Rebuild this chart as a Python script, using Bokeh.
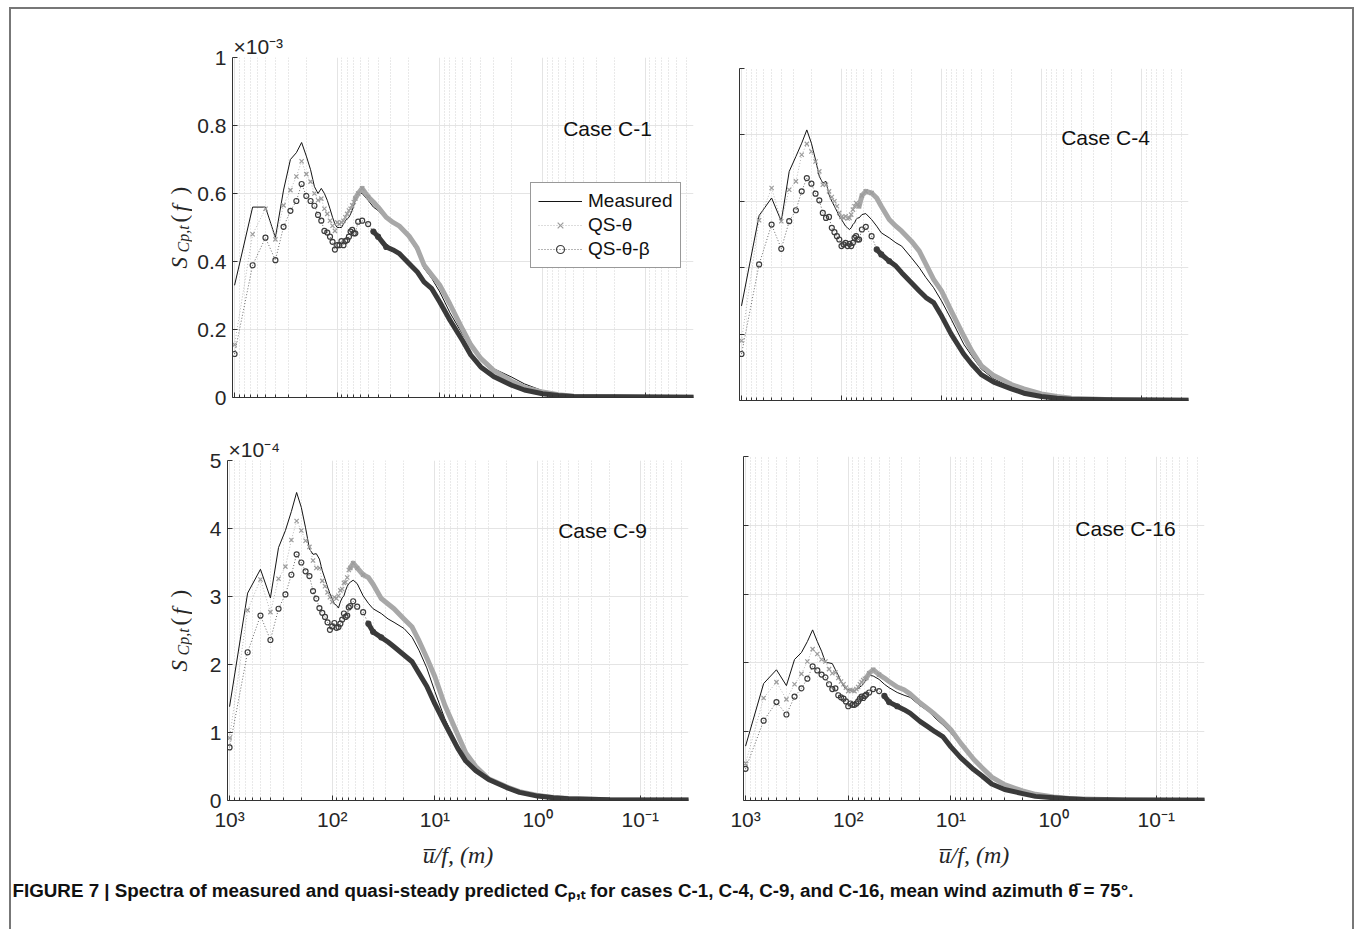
import math
from bokeh.plotting import figure
from bokeh.models import (Range1d, FixedTicker, Legend, LegendItem, Label, ColumnDataSource,
                          Div, Spacer, Title)
from bokeh.layouts import row, column
from bokeh.embed import file_html
from bokeh.resources import INLINE

# ---------------- data ----------------
# u/f (m) of the spectral bins that were read
X_BINS = [1000.0, 666.7, 500.0, 400.0, 333.3, 285.7, 250.0, 222.2, 200.0, 181.8,
          166.7, 153.8, 142.9, 133.3, 125.0, 117.6, 111.1, 105.3, 100.0, 95.24,
          90.91, 86.96, 83.33, 80.0, 76.92, 74.07, 71.43, 68.97, 66.67,
          62.5, 57.14, 50.0, 44.44, 40.0, 33.33, 28.57, 25.0, 20.0, 16.67, 14.29,
          12.0, 10.0, 8.0, 6.0, 5.0, 4.0, 3.0, 2.0, 1.5, 1.0, 0.7, 0.5, 0.2, 0.032]

# Case C-1  (units of 1e-3)
C1_MEASURED = [0.33, 0.56, 0.56, 0.47, 0.61, 0.70, 0.72, 0.75, 0.71, 0.67,
               0.62, 0.60, 0.615, 0.60, 0.58, 0.555, 0.53, 0.51, 0.50, 0.50,
               0.50, 0.51, 0.52, 0.525, 0.53, 0.54, 0.55, 0.565, 0.58,
               0.60, 0.60, 0.58, 0.56, 0.55, 0.525, 0.52, 0.505, 0.47, 0.43, 0.38,
               0.35, 0.31, 0.25, 0.185, 0.15, 0.12, 0.085, 0.06, 0.04, 0.02, 0.01, 0.005, 0.002, 0.001]
C1_QS_THETA = [0.155, 0.48, 0.555, 0.465, 0.565, 0.61, 0.65, 0.695, 0.657, 0.635,
               0.60, 0.58, 0.585, 0.555, 0.54, 0.52, 0.505, 0.49, 0.515, 0.51,
               0.515, 0.52, 0.53, 0.54, 0.55, 0.555, 0.565, 0.575, 0.585,
               0.60, 0.615, 0.59, 0.575, 0.56, 0.53, 0.515, 0.505, 0.475, 0.44, 0.39,
               0.36, 0.33, 0.275, 0.20, 0.155, 0.115, 0.08, 0.048, 0.03, 0.016, 0.008, 0.004, 0.002, 0.001]
C1_QS_THETA_BETA = [0.128, 0.389, 0.47, 0.404, 0.502, 0.549, 0.578, 0.628, 0.593, 0.578,
                    0.564, 0.537, 0.52, 0.49, 0.485, 0.473, 0.458, 0.435, 0.448, 0.448,
                    0.46, 0.448, 0.46, 0.463, 0.473, 0.488, 0.493, 0.483, 0.483,
                    0.517, 0.52, 0.51, 0.488, 0.473, 0.443, 0.434, 0.424, 0.394, 0.37, 0.34,
                    0.32, 0.28, 0.228, 0.167, 0.125, 0.09, 0.062, 0.036, 0.022, 0.011, 0.006, 0.003, 0.002, 0.001]

# Case C-4  (units of 1e-3)
C4_MEASURED = [0.285, 0.557, 0.61, 0.54, 0.69, 0.735, 0.775, 0.815, 0.775, 0.725,
               0.675, 0.655, 0.66, 0.62, 0.60, 0.585, 0.57, 0.555, 0.545, 0.535,
               0.525, 0.52, 0.515, 0.52, 0.53, 0.535, 0.545, 0.55, 0.55,
               0.56, 0.563, 0.545, 0.525, 0.505, 0.49, 0.475, 0.465, 0.43, 0.40, 0.37,
               0.34, 0.30, 0.245, 0.17, 0.135, 0.095, 0.065, 0.04, 0.028, 0.015, 0.008, 0.004, 0.002, 0.001]
C4_QS_THETA = [0.18, 0.543, 0.64, 0.54, 0.635, 0.66, 0.74, 0.773, 0.75, 0.72,
               0.69, 0.65, 0.65, 0.63, 0.613, 0.60, 0.585, 0.565, 0.553, 0.55,
               0.555, 0.548, 0.55, 0.56, 0.575, 0.585, 0.595, 0.59, 0.585,
               0.617, 0.63, 0.625, 0.61, 0.585, 0.545, 0.525, 0.51, 0.48, 0.45, 0.41,
               0.365, 0.33, 0.27, 0.195, 0.15, 0.105, 0.075, 0.048, 0.035, 0.02, 0.012, 0.007, 0.002, 0.001]
C4_QS_THETA_BETA = [0.14, 0.41, 0.53, 0.457, 0.54, 0.573, 0.63, 0.67, 0.653, 0.623,
                    0.603, 0.565, 0.55, 0.553, 0.52, 0.507, 0.495, 0.485, 0.465, 0.47,
                    0.475, 0.465, 0.472, 0.465, 0.475, 0.49, 0.495, 0.485, 0.485,
                    0.515, 0.523, 0.495, 0.455, 0.44, 0.42, 0.405, 0.385, 0.355, 0.33, 0.31,
                    0.295, 0.255, 0.2, 0.14, 0.11, 0.078, 0.055, 0.035, 0.022, 0.012, 0.007, 0.004, 0.002, 0.001]

# Case C-9  (units of 1e-4)
C9_MEASURED = [1.38, 3.05, 3.40, 2.98, 3.72, 3.97, 4.25, 4.53, 4.31, 4.01,
               3.70, 3.62, 3.63, 3.55, 3.38, 3.26, 3.14, 3.04, 2.97, 2.89,
               2.87, 2.83, 2.92, 2.98, 3.01, 3.09, 3.15, 3.19, 3.21,
               3.24, 3.19, 3.01, 2.90, 2.82, 2.75, 2.67, 2.62, 2.53, 2.40, 2.21,
               1.95, 1.6, 1.2, 0.8, 0.6, 0.42, 0.3, 0.18, 0.12, 0.07, 0.045, 0.03, 0.01, 0.008]
C9_QS_THETA = [0.92, 2.80, 3.25, 2.77, 3.26, 3.44, 3.83, 4.11, 3.97, 3.82,
               3.73, 3.53, 3.42, 3.42, 3.23, 3.15, 3.06, 2.99, 2.92, 2.99,
               2.97, 3.01, 3.09, 3.11, 3.20, 3.21, 3.28, 3.39, 3.42,
               3.49, 3.42, 3.32, 3.28, 3.18, 2.97, 2.89, 2.82, 2.67, 2.55, 2.35,
               2.1, 1.82, 1.4, 0.97, 0.7, 0.5, 0.32, 0.2, 0.13, 0.075, 0.045, 0.03, 0.01, 0.008]
C9_QS_THETA_BETA = [0.78, 2.18, 2.72, 2.36, 2.82, 3.03, 3.32, 3.62, 3.50, 3.37,
                    3.30, 3.08, 2.97, 2.83, 2.76, 2.70, 2.62, 2.51, 2.56, 2.61,
                    2.54, 2.55, 2.60, 2.66, 2.75, 2.70, 2.72, 2.84, 2.86,
                    2.93, 2.85, 2.77, 2.60, 2.48, 2.40, 2.33, 2.26, 2.14, 2.04, 1.87,
                    1.68, 1.42, 1.13, 0.77, 0.58, 0.44, 0.31, 0.19, 0.12, 0.065, 0.04, 0.025, 0.01, 0.008]

# Case C-16  (units of 1e-4)
C16_MEASURED = [0.79, 1.70, 1.90, 1.67, 2.05, 2.15, 2.31, 2.48, 2.31, 2.17,
                2.01, 2.0, 1.99, 1.90, 1.82, 1.73, 1.67, 1.62, 1.61, 1.60,
                1.59, 1.60, 1.61, 1.63, 1.65, 1.67, 1.69, 1.73, 1.76,
                1.82, 1.81, 1.76, 1.69, 1.64, 1.57, 1.53, 1.50, 1.38, 1.30, 1.20,
                1.1, 0.98, 0.8, 0.58, 0.45, 0.33, 0.22, 0.12, 0.08, 0.05, 0.03, 0.02, 0.008, 0.006]
C16_QS_THETA = [0.54, 1.49, 1.72, 1.47, 1.69, 1.84, 2.02, 2.20, 2.13, 2.05,
                2.02, 1.91, 1.85, 1.86, 1.78, 1.73, 1.69, 1.64, 1.59, 1.61,
                1.60, 1.59, 1.62, 1.65, 1.69, 1.72, 1.75, 1.77, 1.78,
                1.85, 1.90, 1.83, 1.78, 1.73, 1.65, 1.61, 1.55, 1.42, 1.33, 1.25,
                1.15, 1.03, 0.83, 0.6, 0.48, 0.34, 0.23, 0.14, 0.09, 0.05, 0.03, 0.02, 0.008, 0.006]
C16_QS_THETA_BETA = [0.46, 1.16, 1.43, 1.25, 1.51, 1.63, 1.77, 1.95, 1.89, 1.83,
                     1.79, 1.69, 1.62, 1.63, 1.53, 1.50, 1.48, 1.44, 1.37, 1.41,
                     1.39, 1.39, 1.41, 1.44, 1.48, 1.51, 1.49, 1.52, 1.54,
                     1.57, 1.62, 1.59, 1.52, 1.43, 1.37, 1.32, 1.27, 1.15, 1.07, 1.0,
                     0.93, 0.78, 0.62, 0.45, 0.36, 0.24, 0.16, 0.1, 0.06, 0.04, 0.025, 0.015, 0.006, 0.005]

X_TICKS = [1000.0, 100.0, 10.0, 1.0, 0.1]
X_TICK_LABELS = ["10³", "10²", "10¹", "10⁰", "10⁻¹"]
Y_TICKS_TOP = [0, 0.2, 0.4, 0.6, 0.8, 1]
Y_TICK_LABELS_TOP = ["0", "0.2", "0.4", "0.6", "0.8", "1"]
Y_TICKS_BOTTOM = [0, 1, 2, 3, 4, 5]
Y_TICK_LABELS_BOTTOM = ["0", "1", "2", "3", "4", "5"]
LEGEND_LABELS = ["Measured", "QS-θ", "QS-θ-β"]
CASES = ["Case C-1", "Case C-4", "Case C-9", "Case C-16"]
SCALES = ["×10⁻³", "×10⁻⁴"]
CAPTION = ("FIGURE 7 | Spectra of measured and quasi-steady predicted Cₚ,ₜ for cases "
           "C-1, C-4, C-9, and C-16, mean wind azimuth θ̄ = 75°.")

# ---------------- styling ----------------
SANS = "Liberation Sans"
SERIF = "Liberation Serif"
INK = "#262626"
AX = "#333333"
X_START = 10 ** 3.02
X_END = 10 ** -1.47
MINOR = [m * 10.0 ** e for e in range(-2, 4) for m in range(2, 10)]
YL_W = 181          # label strip: abs x 11..192


def no_align(f):
    try:
        f.frame_align = False
    except Exception:
        pass
    return f


def blank_fig(width, height):
    f = figure(width=width, height=height, output_backend="svg", toolbar_location=None,
               x_range=Range1d(0, 1), y_range=Range1d(0, 1), min_border=0,
               x_axis_location=None, y_axis_location=None)
    f.grid.visible = False
    f.outline_line_color = None
    return no_align(f)


def ylabel_fig(height, canvas_bottom_abs, by):
    # S_{Cp,t}(f), rotated, built from pieces
    f = blank_fig(YL_W, height)
    common = dict(x_units="screen", y_units="screen", angle=math.pi / 2,
                  text_font=SERIF, text_color=INK,
                  text_align="left", text_baseline="alphabetic")
    pieces = [("S", 179, 0, "23px", "italic"), ("Cp,t", 183, 16, "16px", "italic"),
              ("(", 179, 46, "23px", "normal"), ("f", 180, 57, "23px", "italic"),
              (")", 179, 74, "23px", "normal")]
    for txt, ax_abs, dy, fs, style in pieces:
        f.add_layout(Label(x=ax_abs - 11, y=canvas_bottom_abs - (by - dy), text=txt,
                           text_font_size=fs, text_font_style=style, **common))
    return f


def make_panel(width, height, borders, frame_abs, y_end, y_ticks, y_labels,
               show_x_labels, show_y_labels, series, case_text, case_abs):
    left, right, top, bottom = borders
    fl, fb = frame_abs
    p = figure(width=width, height=height, x_axis_type="log",
               x_range=Range1d(X_START, X_END), y_range=Range1d(0, y_end),
               output_backend="svg", toolbar_location=None,
               min_border_left=left, min_border_right=right,
               min_border_top=top, min_border_bottom=bottom)
    no_align(p)
    p.outline_line_color = None
    p.background_fill_color = "white"
    p.border_fill_color = "white"

    xt = FixedTicker(ticks=X_TICKS, minor_ticks=MINOR)
    yt = FixedTicker(ticks=y_ticks)
    xa = p.xaxis[0]
    ya = p.yaxis[0]
    xa.ticker = xt
    ya.ticker = yt
    p.xgrid[0].ticker = xt
    p.ygrid[0].ticker = yt
    xa.major_label_overrides = {t: (lab if show_x_labels else "") for t, lab in zip(X_TICKS, X_TICK_LABELS)}
    ya.major_label_overrides = {t: (lab if show_y_labels else "") for t, lab in zip(y_ticks, y_labels)}
    for ax in (xa, ya):
        ax.axis_line_color = AX
        ax.major_tick_line_color = AX
        ax.major_tick_in = 5
        ax.major_tick_out = 0
        ax.major_label_text_font = SANS
        ax.major_label_text_font_size = "21px"
        ax.major_label_text_color = INK
    xa.minor_tick_line_color = AX
    xa.minor_tick_in = 3
    xa.minor_tick_out = 0
    ya.minor_tick_line_color = None
    ya.major_label_standoff = 6
    xa.major_label_standoff = 7
    if show_x_labels:
        xa.axis_label = "u̅/f, (m)"
        xa.axis_label_text_font = SERIF
        xa.axis_label_text_font_style = "italic"
        xa.axis_label_text_font_size = "24px"
        xa.axis_label_text_color = INK
        xa.axis_label_standoff = 8

    p.xgrid.grid_line_color = "#e4e4e4"
    p.xgrid.minor_grid_line_color = "#d2d2d2"
    p.xgrid.minor_grid_line_dash = "1 2"
    p.ygrid.grid_line_color = "#e4e4e4"

    meas, qs, qsb = series
    src = ColumnDataSource(dict(x=X_BINS, m=meas, q=qs, b=qsb))
    r_m = p.line("x", "m", source=src, line_color="#141414", line_width=1)
    r_qd = p.line("x", "q", source=src, line_color="#b8b8b8", line_width=1, line_dash="1 2")
    p.line(X_BINS[28:], qs[28:], line_color="#a8a8a8", line_width=5,
           line_join="round", line_cap="round")
    r_qm = p.scatter(X_BINS[:32], qs[:32], marker="x", size=6,
                     line_color="#9c9c9c", line_width=1.2)
    r_bd = p.line("x", "b", source=src, line_color="#6a6a6a", line_width=1, line_dash="1 2")
    p.line(X_BINS[32:], qsb[32:], line_color="#3a3a3a", line_width=5,
           line_join="round", line_cap="round")
    r_bm = p.scatter(X_BINS[:35], qsb[:35], marker="circle", size=5, fill_color=None,
                     line_color="#3c3c3c", line_width=1.2)

    p.add_layout(Label(x=case_abs[0] - fl, y=fb - case_abs[1], x_units="screen", y_units="screen",
                       text=case_text, text_font=SANS, text_font_size="21px", text_color="#111111",
                       text_align="center", text_baseline="middle"))
    return p, (r_m, r_qd, r_qm, r_bd, r_bm)


# top-left  C-1 : frame x 232..693, y 57..397   (canvas abs x 192..712, y 9..430)
p1, r1 = make_panel(520, 421, (40, 19, 48, 33), (232, 397), 1.0, Y_TICKS_TOP, Y_TICK_LABELS_TOP,
                    False, True, (C1_MEASURED, C1_QS_THETA, C1_QS_THETA_BETA), CASES[0], (607, 128))
# top-right C-4 : frame x 739..1188, y 68..400
p2, _ = make_panel(640, 421, (27, 164, 59, 30), (739, 400), 1.0, Y_TICKS_TOP, Y_TICK_LABELS_TOP,
                   False, False, (C4_MEASURED, C4_QS_THETA, C4_QS_THETA_BETA), CASES[1], (1105, 137))
# bottom-left C-9 : frame x 227..688, y 460..800  (canvas abs x 192..712, y 430..870)
p3, _ = make_panel(520, 440, (35, 24, 30, 70), (227, 800), 5.0, Y_TICKS_BOTTOM, Y_TICK_LABELS_BOTTOM,
                   True, True, (C9_MEASURED, C9_QS_THETA, C9_QS_THETA_BETA), CASES[2], (602, 530))
# bottom-right C-16 : frame x 743..1204, y 456..800
p4, _ = make_panel(640, 440, (31, 148, 26, 70), (743, 800), 5.0, Y_TICKS_BOTTOM, Y_TICK_LABELS_BOTTOM,
                   True, False, (C16_MEASURED, C16_QS_THETA, C16_QS_THETA_BETA), CASES[3], (1125, 528))

# exponent labels above the left panels
for p, txt in ((p1, SCALES[0]), (p3, SCALES[1])):
    p.add_layout(Title(text=txt, align="left", offset=1, standoff=0, text_font=SANS,
                       text_font_style="normal", text_font_size="21px", text_color=INK), "above")

yl1 = ylabel_fig(421, 430, 268)
yl3 = ylabel_fig(440, 870, 671)

r_m, r_qd, r_qm, r_bd, r_bm = r1
legend = Legend(items=[LegendItem(label=LEGEND_LABELS[0], renderers=[r_m]),
                       LegendItem(label=LEGEND_LABELS[1], renderers=[r_qd, r_qm]),
                       LegendItem(label=LEGEND_LABELS[2], renderers=[r_bd, r_bm])],
                location=(298, 129), margin=0, padding=7, spacing=2,
                glyph_width=44, glyph_height=20, label_height=20, label_standoff=6,
                label_text_font=SANS, label_text_font_size="19px", label_text_color="#111111",
                border_line_color="#333333", border_line_width=1,
                background_fill_color="white", background_fill_alpha=1.0)
p1.add_layout(legend)

# caption strip
cap = blank_fig(1341, 59)
cap.add_layout(Label(x=1, y=39, x_units="screen", y_units="screen", text=CAPTION,
                     text_font=SANS, text_font_style="bold",
                     text_font_size="18.8px", text_color="#111111",
                     text_align="left", text_baseline="middle"))

content = column(row(yl1, p1, p2), row(yl3, p3, p4), cap)
GRAY = {"background-color": "#777777"}
layout = column(
    Spacer(width=1355, height=7),
    row(Spacer(width=9, height=2), Div(text="", width=1345, height=2, margin=0, styles=GRAY)),
    row(Spacer(width=9, height=920), Div(text="", width=2, height=920, margin=0, styles=GRAY),
        content, Div(text="", width=2, height=920, margin=0, styles=GRAY)),
)

open("out.html", "w").write(file_html(layout, INLINE))
